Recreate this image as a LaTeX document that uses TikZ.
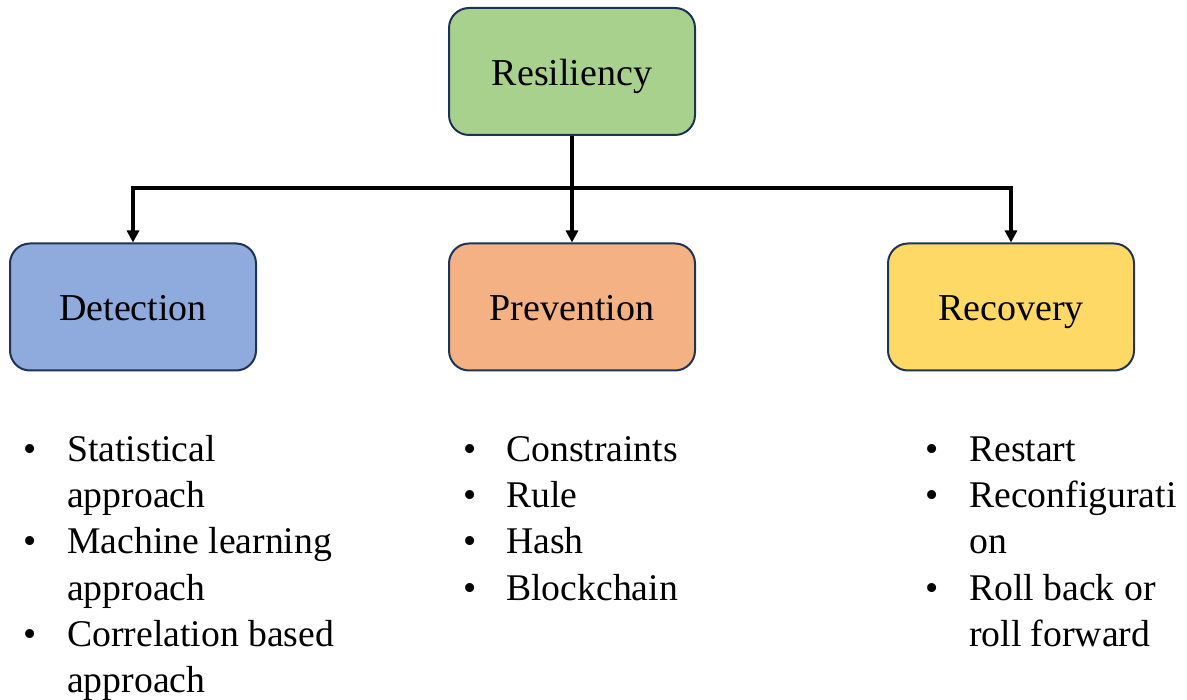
\documentclass[tikz,border=0pt]{standalone}
\usepackage{fontspec}
\setmainfont{Liberation Serif}
\usetikzlibrary{arrows.meta}
\definecolor{boxline}{HTML}{1F3455}
\definecolor{resgreen}{HTML}{A9D18E}
\definecolor{detblue}{HTML}{8FAADC}
\definecolor{preorange}{HTML}{F4B183}
\definecolor{recyellow}{HTML}{FFD966}
\tikzset{
  catbox/.style={draw=boxline, line width=2pt, rounded corners=20pt,
    minimum width=246pt, minimum height=127pt, inner sep=0pt,
    text height=32pt, text depth=4pt,
    font=\fontsize{38}{46}\selectfont},
  tip/.style={-{Triangle[length=12pt,width=12pt]}},
  conn/.style={line width=3.5pt, black},
  item/.style={anchor=base west, inner sep=0pt, font=\fontsize{37.7}{46}\selectfont},
  dot/.style={anchor=base, inner sep=0pt, font=\fontsize{37.7}{46}\selectfont}
}
\begin{document}
\begin{tikzpicture}[x=1pt, y=-1pt]
\useasboundingbox (0,0) rectangle (1187,700);

% category boxes
\node[catbox, fill=resgreen]  (res)  at (572,71.5)  {Resiliency};
\node[catbox, fill=detblue]   (det)  at (133,307)   {Detection};
\node[catbox, fill=preorange] (prev) at (572,307)   {Prevention};
\node[catbox, fill=recyellow] (rec)  at (1011,307)  {Recovery};

% tree connectors
\coordinate (bus) at (572,188);
\draw[conn, tip] (res.south) -- (prev.north);
\draw[conn, {Triangle[length=12pt,width=12pt]}-{Triangle[length=12pt,width=12pt]}]
  (det.north) -- (bus -| det.north) -- (bus -| rec.north) -- (rec.north);

% detection items
\foreach \y/\b/\t in {462/1/Statistical, 508/0/approach, 554/1/Machine learning,
                      600/0/approach, 646/1/Correlation based, 692/0/approach}{
  \ifnum\b=1 \node[dot] at (30,\y) {•};\fi
  \node[item] at (67,\y) {\t};
}

% prevention items
\foreach \y/\t in {462/Constraints, 508/Rule, 554/Hash, 600/Blockchain}{
  \node[dot] at (470,\y) {•};
  \node[item] at (506,\y) {\t};
}

% recovery items
\foreach \y/\b/\t in {462/1/Restart, 508/1/Reconfigurati, 554/0/on,
                      600/1/Roll back or, 646/0/roll forward}{
  \ifnum\b=1 \node[dot] at (932,\y) {•};\fi
  \node[item] at (969,\y) {\t};
}
\end{tikzpicture}
\end{document}
